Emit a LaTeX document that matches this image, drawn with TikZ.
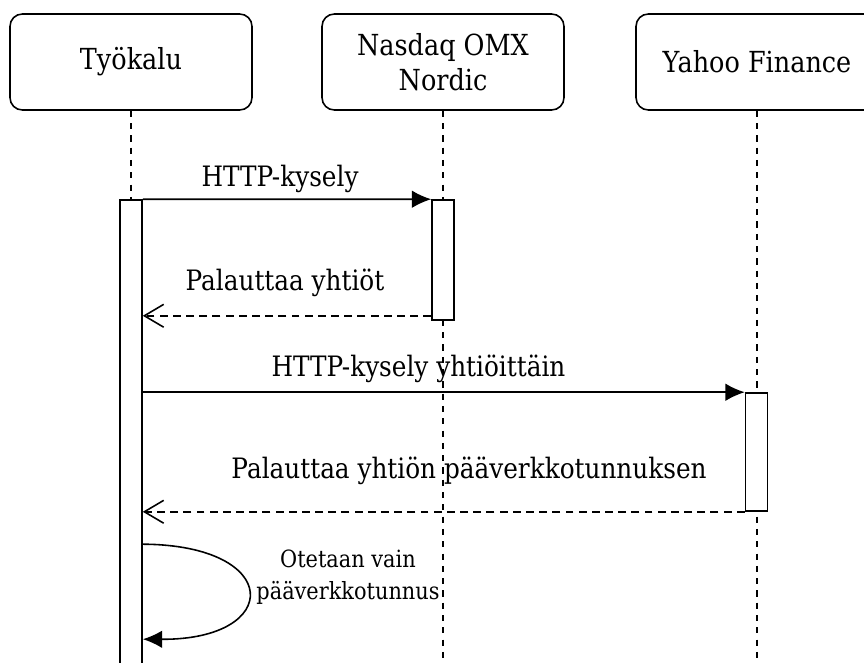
\documentclass[tikz,border=0pt]{standalone}
\usepackage{fontspec}
\setmainfont{DejaVu Serif}[FakeStretch=0.88]
\usetikzlibrary{arrows.meta}

\tikzset{
    actor/.style={draw, line width=0.9pt, rounded corners=7pt, minimum width=4.84cm,
        minimum height=1.92cm, align=center, font=\fontsize{16.5}{20}\selectfont},
    bar/.style={draw, line width=0.9pt, fill=white, minimum width=0.44cm, inner sep=0pt},
    lifeline/.style={line width=0.8pt, dash pattern=on 3.5pt off 3.5pt},
    call/.style={line width=0.9pt, -{Latex[length=11pt,width=10pt]}},
    reply/.style={line width=0.9pt, dash pattern=on 4.5pt off 3pt,
        -{Straight Barb[length=11pt,width=13pt,line width=0.9pt]}},
    msg/.style={font=\fontsize{16}{19}\selectfont},
    note/.style={align=center, font=\fontsize{13.5}{18.5}\selectfont}
}

\begin{document}
\begin{tikzpicture}[x=0.02cm, y=-0.02cm]
    \useasboundingbox (0,0) rectangle (864,662);

    % participants
    \node[actor] (tool) at (131,62) {Työkalu};
    \node[actor] (nasdaq) at (443,62) {Nasdaq OMX\\Nordic};
    \node[actor] (yahoo) at (757,62) {Yahoo Finance};

    % lifelines
    \coordinate (toolend) at (131,662);
    \coordinate (nasdaqend) at (443,662);
    \coordinate (yahooend) at (757,662);
    \draw[lifeline] (tool) -- (toolend);
    \draw[lifeline] (nasdaq) -- (nasdaqend);
    \draw[lifeline] (yahoo) -- (yahooend);

    % activations
    \node[bar, minimum height=9.4cm] (toolbar) at (131,435) {};
    \node[bar, minimum height=2.4cm] (nasdaqbar) at (443,260) {};
    \node[bar, minimum height=2.36cm] (yahoobar) at (756.5,452) {};

    % messages
    \draw[call] (toolbar.north east) -- (nasdaqbar.north west)
        node[msg, pos=0.476, yshift=0.4cm] {HTTP-kysely};
    \coordinate (ret1) at ([yshift=0.1cm]nasdaqbar.south west);
    \draw[reply] (ret1) -- (ret1 -| toolbar.east)
        node[msg, pos=0.507, yshift=0.66cm] {Palauttaa yhtiöt};
    \draw[call] (yahoobar.north west -| toolbar.east) -- (yahoobar.north west)
        node[msg, pos=0.458, yshift=0.46cm] {HTTP-kysely yhtiöittäin};
    \draw[reply] (yahoobar.south west) -- (yahoobar.south west -| toolbar.east)
        node[msg, pos=0.458, yshift=0.82cm] {Palauttaa yhtiön pääverkkotunnuksen};

    % self call
    \coordinate (self1) at ([yshift=-6.9cm]toolbar.north east);
    \coordinate (self2) at ([yshift=-8.8cm]toolbar.north east);
    \draw[call] (self1) .. controls (283,545) and (283,640) .. (self2);
    \node[note] (selflabel) at (348,577) {Otetaan vain\\pääverkkotunnus};
\end{tikzpicture}
\end{document}
